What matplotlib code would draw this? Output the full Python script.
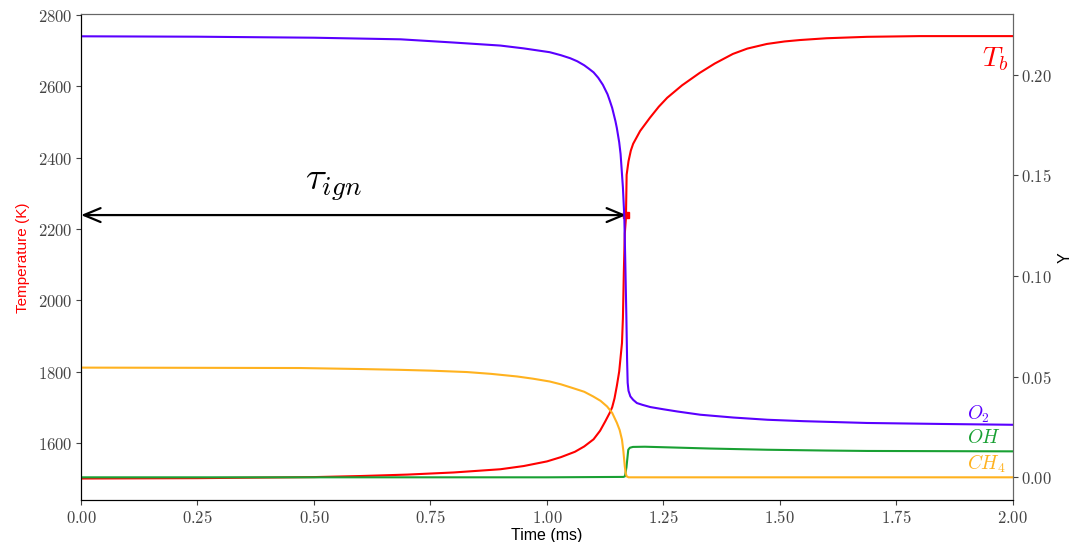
import numpy as np
import matplotlib
matplotlib.use("Agg")
import matplotlib.pyplot as plt
from matplotlib.ticker import FuncFormatter

plt.rcParams["mathtext.fontset"] = "cm"

# temperature trace (time in ms, T in K)
t_T = [0.0, 0.25, 0.5, 0.6, 0.7, 0.8, 0.9, 0.95, 1.0, 1.03, 1.06, 1.08, 1.10,
       1.114, 1.125, 1.135, 1.14, 1.145, 1.15, 1.155, 1.158, 1.161, 1.163,
       1.165, 1.167, 1.1695, 1.171, 1.175, 1.18, 1.185, 1.2, 1.221, 1.24,
       1.258, 1.29, 1.328, 1.36, 1.399, 1.43, 1.472, 1.51, 1.543, 1.6, 1.687,
       1.8, 2.0]
temp = [1500, 1501, 1504, 1507, 1511, 1517, 1526, 1535, 1548, 1560, 1575, 1590,
        1610, 1634, 1660, 1685, 1700, 1725, 1760, 1800, 1840, 1880, 1950,
        2080, 2186, 2231, 2352, 2390, 2420, 2439, 2475, 2512, 2543,
        2568, 2603, 2638, 2664, 2691, 2706, 2719, 2726, 2730, 2735, 2739,
        2741, 2741]

# O2 mass fraction
t_O2 = [0.0, 0.25, 0.5, 0.686, 0.8, 0.9, 0.95, 1.006, 1.03, 1.05, 1.065, 1.08,
        1.09, 1.10, 1.11, 1.12, 1.13, 1.135, 1.14, 1.147, 1.15, 1.155, 1.158,
        1.16, 1.163, 1.166, 1.168, 1.1704, 1.172, 1.1732, 1.175, 1.179, 1.185,
        1.193, 1.205, 1.222, 1.25, 1.28, 1.329, 1.4, 1.473, 1.55, 1.687, 1.85, 2.0]
y_O2 = [0.2191, 0.2189, 0.2184, 0.2176, 0.2160, 0.2145, 0.2131, 0.2112, 0.2097,
        0.2082, 0.2067, 0.2047, 0.2030, 0.2012, 0.1985, 0.1950, 0.1903, 0.1870,
        0.1835, 0.1769, 0.1735, 0.1665, 0.1606, 0.1540, 0.1440, 0.1295, 0.1080,
        0.0799, 0.0580, 0.0470, 0.0430, 0.0402, 0.0385, 0.0369, 0.0360, 0.0349,
        0.0338, 0.0327, 0.0311, 0.0297, 0.0286, 0.0279, 0.0270, 0.0265, 0.0261]

# OH mass fraction
t_OH = [0.0, 0.5, 1.0, 1.164, 1.1674, 1.1706, 1.1745, 1.178, 1.1845, 1.21,
        1.2575, 1.35, 1.472, 1.6, 1.687, 2.0]
y_OH = [0.0, 0.0, 0.0, 0.0002, 0.0005, 0.0050, 0.0137, 0.0147, 0.0151, 0.0152,
        0.0149, 0.0143, 0.0137, 0.0133, 0.0131, 0.0129]

# CH4 mass fraction
t_CH4 = [0.0, 0.25, 0.47, 0.6, 0.685, 0.75, 0.828, 0.88, 0.936, 0.97, 1.006,
         1.03, 1.056, 1.08, 1.099, 1.115, 1.129, 1.14, 1.15, 1.156, 1.161,
         1.164, 1.167, 1.169, 1.171, 1.175, 2.0]
y_CH4 = [0.0545, 0.0544, 0.0543, 0.0538, 0.0534, 0.0530, 0.0523, 0.0514, 0.0501,
         0.0490, 0.0476, 0.0462, 0.0443, 0.0425, 0.0402, 0.0380, 0.0352, 0.0320,
         0.0271, 0.0235, 0.0187, 0.0130, 0.0055, 0.0020, 0.0005, 0.0, 0.0]

t_ign = 1.17
T_ign = 2239

col_T = "#ff0000"
col_O2 = "#5a00ff"
col_OH = "#19a033"
col_CH4 = "#ffb21f"

fig = plt.figure(figsize=(10.73, 5.42), dpi=100)
ax = fig.add_axes([0.0755, 0.077, 0.8685, 0.8965])
ax2 = ax.twinx()

ax.plot(t_T, temp, color=col_T, lw=1.5)
ax.plot([t_ign], [T_ign], "s", color=col_T, ms=4)
ax.annotate("", xy=(0.0, T_ign), xytext=(t_ign, T_ign),
            arrowprops=dict(arrowstyle="<->,head_length=1.2,head_width=0.5",
                            color="black", lw=1.6, shrinkA=0, shrinkB=0))
ax.text(0.541, 2325, r"$\tau_{ign}$", fontsize=28, ha="center", va="center")
ax.text(1.99, 2678, r"$T_b$", fontsize=20, color=col_T, ha="right", va="center")

ax2.plot(t_O2, y_O2, color=col_O2, lw=1.5)
ax2.plot(t_OH, y_OH, color=col_OH, lw=1.5)
ax2.plot(t_CH4, y_CH4, color=col_CH4, lw=1.5)
ax2.text(1.901, 0.0311, r"$O_2$", fontsize=14, color=col_O2, ha="left", va="center")
ax2.text(1.901, 0.0197, r"$OH$", fontsize=14, color=col_OH, ha="left", va="center")
ax2.text(1.901, 0.0068, r"$CH_4$", fontsize=14, color=col_CH4, ha="left", va="center")

ax.set_xlim(0, 2.0)
ax.set_ylim(1439, 2802)
ax2.set_ylim(-0.0114, 0.2300)
ax.set_xticks(np.arange(0, 2.01, 0.25))
ax.set_yticks(np.arange(1600, 2801, 200))
ax2.set_yticks(np.arange(0, 0.201, 0.05))

ax.xaxis.set_major_formatter(FuncFormatter(lambda v, p: r"$%.2f$" % v))
ax.yaxis.set_major_formatter(FuncFormatter(lambda v, p: r"$%d$" % v))
ax2.yaxis.set_major_formatter(FuncFormatter(lambda v, p: r"$%.2f$" % v))
for a in (ax, ax2):
    a.tick_params(labelsize=12, labelcolor="#444444", color="#444444", pad=2.5)

lab_font = ["Liberation Sans Narrow", "Liberation Sans", "DejaVu Sans"]
ax.set_xlabel("Time (ms)", fontsize=11.5, family=lab_font, labelpad=1)
ax.set_ylabel("Temperature (K)", fontsize=11, family=lab_font, color=col_T, labelpad=6)
ax2.set_ylabel("Y", fontsize=11.5, family=lab_font, labelpad=4)

for a in (ax, ax2):
    a.spines["top"].set_color("#666666")
    a.spines["right"].set_color("#666666")

fig.savefig("out.png", dpi=100)
